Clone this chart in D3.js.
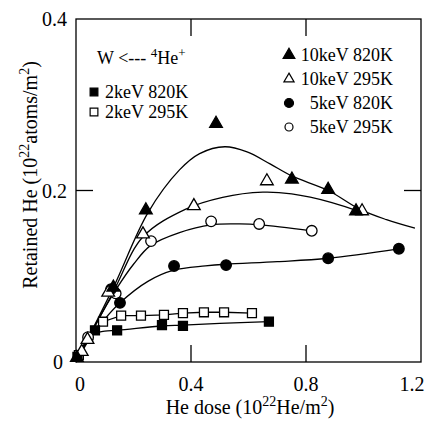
<!DOCTYPE html>
<html>
<head>
<meta charset="utf-8">
<script src="https://cdn.jsdelivr.net/npm/d3@7"></script>
<style>
  body { margin: 0; background: #fff; }
  svg text { font-family: "Liberation Serif", "Noto Serif", "DejaVu Serif", "Times New Roman", Times, serif; }
</style>
</head>
<body>
<svg id="chart" width="427" height="422"></svg>
<script>
// measured points  [dose, retained]
var k10_820 = [[0.003, 0.005], [0.13, 0.087], [0.243, 0.177], [0.487, 0.278], [0.751, 0.213], [0.877, 0.201], [0.974, 0.176]];
var k10_295 = [[0.02, 0.012], [0.04, 0.026], [0.112, 0.081], [0.233, 0.149], [0.41, 0.182], [0.664, 0.211], [0.995, 0.176]];
var k5_820 = [[0.122, 0.085], [0.153, 0.069], [0.341, 0.112], [0.522, 0.113], [0.877, 0.121], [1.123, 0.132]];
var k5_295 = [[0.042, 0.029], [0.138, 0.08], [0.261, 0.141], [0.47, 0.164], [0.637, 0.161], [0.82, 0.153]];
var k2_820 = [[0.005, 0.006], [0.066, 0.037], [0.143, 0.037], [0.299, 0.043], [0.372, 0.042], [0.671, 0.047]];
var k2_295 = [[0.01, 0.008], [0.042, 0.027], [0.094, 0.047], [0.157, 0.054], [0.226, 0.054], [0.306, 0.055], [0.372, 0.057], [0.445, 0.058], [0.515, 0.058], [0.612, 0.057]];

// drawn fit curves
var fit10_820 = [[0, 0], [0.13, 0.087], [0.25, 0.174], [0.36, 0.224], [0.43, 0.243], [0.518, 0.251], [0.595, 0.245], [0.675, 0.231], [0.75, 0.217], [0.877, 0.200], [0.988, 0.178], [1.08, 0.166], [1.179, 0.156]];
var fit10_295 = [[0, 0], [0.13, 0.082], [0.233, 0.146], [0.38, 0.178], [0.51, 0.192], [0.65, 0.198], [0.75, 0.196], [0.89, 0.186], [0.99, 0.175]];
var fit5_295 = [[0, 0], [0.07, 0.045], [0.14, 0.085], [0.2, 0.114], [0.26, 0.136], [0.36, 0.151], [0.47, 0.16], [0.57, 0.161], [0.64, 0.16], [0.82, 0.153]];
var fit5_820 = [[0, 0], [0.05, 0.028], [0.1, 0.05], [0.153, 0.069], [0.25, 0.094], [0.34, 0.107], [0.45, 0.112], [0.52, 0.114], [0.7, 0.117], [0.877, 0.121], [1.123, 0.132]];
var fit2_820 = [[0, 0], [0.04, 0.027], [0.07, 0.034], [0.1, 0.036], [0.146, 0.037], [0.3, 0.042], [0.372, 0.043], [0.5, 0.045], [0.671, 0.047]];

var xTicks = [0, 0.4, 0.8, 1.2];
var yTicks = [0, 0.2, 0.4];

function drawChart() {
    var svg = d3.select("#chart");
    var pl = 76, pr = 421, pt = 19, pb = 362;

    var x = d3.scaleLinear().domain([0, 1.2]).range([pl, pr]);
    var y = d3.scaleLinear().domain([0, 0.4]).range([pb, pt]);

    // frame
    svg.append("rect")
        .attr("x", pl).attr("y", pt)
        .attr("width", pr - pl).attr("height", pb - pt)
        .attr("fill", "none").attr("stroke", "#000").attr("stroke-width", 1.3);

    // inner ticks on all sides
    var tl = 17;
    [0.4, 0.8].forEach(function (t) {
        svg.append("line").attr("x1", x(t)).attr("x2", x(t)).attr("y1", pb).attr("y2", pb - tl)
            .attr("stroke", "#000").attr("stroke-width", 1.3);
        svg.append("line").attr("x1", x(t)).attr("x2", x(t)).attr("y1", pt).attr("y2", pt + tl)
            .attr("stroke", "#000").attr("stroke-width", 1.3);
    });
    [0.2].forEach(function (t) {
        svg.append("line").attr("x1", pl).attr("x2", pl + tl).attr("y1", y(t)).attr("y2", y(t))
            .attr("stroke", "#000").attr("stroke-width", 1.3);
        svg.append("line").attr("x1", pr).attr("x2", pr - tl).attr("y1", y(t)).attr("y2", y(t))
            .attr("stroke", "#000").attr("stroke-width", 1.3);
    });

    // tick labels
    xTicks.forEach(function (t) {
        var dx = t == 0 ? 4 : (t == 1.2 ? -9 : 0);
        svg.append("text").attr("x", x(t) + dx).attr("y", 391)
            .attr("text-anchor", "middle").attr("font-size", 20)
            .text(t == 0 ? "0" : d3.format(".1f")(t));
    });
    yTicks.forEach(function (t) {
        svg.append("text").attr("x", t == 0 ? 63 : 67).attr("y", y(t) + 7)
            .attr("text-anchor", "end").attr("font-size", 20)
            .text(t == 0 ? "0" : d3.format(".1f")(t));
    });

    // axis titles
    var xt = svg.append("text").attr("x", 250).attr("y", 414)
        .attr("text-anchor", "middle").attr("font-size", 20);
    xt.append("tspan").text("He dose (10");
    xt.append("tspan").attr("dy", -8).attr("font-size", 14).text("22");
    xt.append("tspan").attr("dy", 8).text("He/m");
    xt.append("tspan").attr("dy", -8).attr("font-size", 14).text("2");
    xt.append("tspan").attr("dy", 8).text(")");

    var yt = svg.append("text").attr("transform", "translate(37,175) rotate(-90)")
        .attr("text-anchor", "middle").attr("font-size", 20);
    yt.append("tspan").text("Retained He (10");
    yt.append("tspan").attr("dy", -8).attr("font-size", 14).text("22");
    yt.append("tspan").attr("dy", 8).text("atoms/m");
    yt.append("tspan").attr("dy", -8).attr("font-size", 14).text("2");
    yt.append("tspan").attr("dy", 8).text(")");

    // curves
    var smooth = d3.line().x(function (d) { return x(d[0]); }).y(function (d) { return y(d[1]); })
        .curve(d3.curveCatmullRom.alpha(0.5));
    var straight = d3.line().x(function (d) { return x(d[0]); }).y(function (d) { return y(d[1]); });

    [fit10_820, fit10_295, fit5_295, fit5_820, fit2_820].forEach(function (c) {
        svg.append("path").datum(c).attr("d", smooth)
            .attr("fill", "none").attr("stroke", "#000").attr("stroke-width", 1.3);
    });
    svg.append("path").datum([[0, 0]].concat(k2_295)).attr("d", straight)
        .attr("fill", "none").attr("stroke", "#000").attr("stroke-width", 1.3);

    // markers
    var triSym = d3.symbol().type(d3.symbolTriangle).size(70);
    var sqSym = d3.symbol().type(d3.symbolSquare).size(80);

    function drawMarks(data, kind, filled) {
        var g = svg.append("g");
        data.forEach(function (d) {
            var m;
            if (kind == "circle") {
                m = g.append("circle").attr("cx", x(d[0])).attr("cy", y(d[1])).attr("r", 5.3);
            } else {
                m = g.append("path").attr("d", kind == "tri" ? triSym : sqSym)
                    .attr("transform", "translate(" + x(d[0]) + "," + y(d[1]) + ")");
            }
            m.attr("fill", filled ? "#000" : "#fff").attr("stroke", "#000").attr("stroke-width", 1.3);
        });
    }
    drawMarks(k2_295, "square", false);
    drawMarks(k2_820, "square", true);
    drawMarks(k5_295, "circle", false);
    drawMarks(k5_820, "circle", true);
    drawMarks(k10_295, "tri", false);
    drawMarks(k10_820, "tri", true);

    // legend
    var title = svg.append("text").attr("x", 97).attr("y", 64).attr("font-size", 18);
    title.append("tspan").text("W <--- ");
    title.append("tspan").attr("dy", -7).attr("font-size", 13).text("4");
    title.append("tspan").attr("dy", 7).text("He");
    title.append("tspan").attr("dy", -7).attr("font-size", 13).text("+");

    var legL = [["square", true, "2keV 820K"], ["square", false, "2keV 295K"]];
    legL.forEach(function (l, i) {
        var cy = 92 + i * 20;
        svg.append("path").attr("d", d3.symbol().type(d3.symbolSquare).size(60))
            .attr("transform", "translate(94," + cy + ")")
            .attr("fill", l[1] ? "#000" : "#fff").attr("stroke", "#000").attr("stroke-width", 1.2);
        svg.append("text").attr("x", 105).attr("y", cy + 6).attr("font-size", 18).text(l[2]);
    });

    var legR = [["tri", true, "10keV 820K"], ["tri", false, "10keV 295K"], ["circle", true, "5keV 820K"], ["circle", false, "5keV 295K"]];
    legR.forEach(function (l, i) {
        var cy = 55 + i * 24;
        var m;
        if (l[0] == "circle") {
            m = svg.append("circle").attr("cx", 289).attr("cy", cy).attr("r", l[1] ? 4.5 : 4);
        } else {
            m = svg.append("path").attr("d", d3.symbol().type(d3.symbolTriangle).size(l[1] ? 60 : 45))
                .attr("transform", "translate(289," + cy + ")");
        }
        m.attr("fill", l[1] ? "#000" : "#fff").attr("stroke", "#000").attr("stroke-width", 1.2);
        svg.append("text").attr("x", 393).attr("y", cy + 6).attr("text-anchor", "end")
            .attr("font-size", 18).text(l[2]);
    });
}

drawChart();
</script>
</body>
</html>
